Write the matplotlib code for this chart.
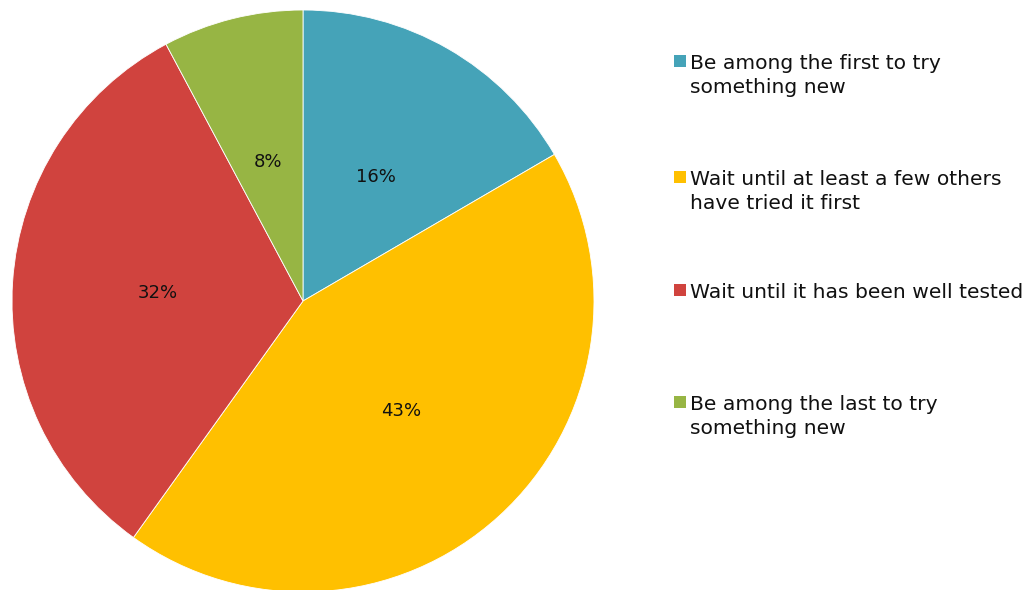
import numpy as np
import matplotlib.pyplot as plt
from matplotlib.patches import Rectangle

# survey answers, clockwise from 12 o'clock
labels = ["Be among the first to try\nsomething new",
          "Wait until at least a few others\nhave tried it first",
          "Wait until it has been well tested",
          "Be among the last to try\nsomething new"]
shares = [16.6, 43.3, 32.3, 7.8]
pct_labels = ["16%", "43%", "32%", "8%"]
colors = ["#45A3B8", "#FFC000", "#D0433E", "#97B544"]

fig = plt.figure(figsize=(10.29, 5.9), dpi=100)
ax = fig.add_axes([12 / 1029, -2 / 590, 582 / 1029, 582 / 590])

wedges, _ = ax.pie(shares, colors=colors, startangle=90, counterclock=False,
                   wedgeprops={"edgecolor": "white", "linewidth": 0.6})
ax.set_xlim(-1, 1)
ax.set_ylim(-1, 1)
ax.set_aspect("equal")

for w, txt in zip(wedges, pct_labels):
    mid = np.deg2rad((w.theta1 + w.theta2) / 2)
    ax.text(0.5 * np.cos(mid), 0.5 * np.sin(mid), txt,
            ha="center", va="center_baseline", fontsize=13, color="#111111")

# legend drawn by hand so the square sits on the first text line
cap_tops = [55, 171, 284, 396]
for lab, col, y in zip(labels, colors, cap_tops):
    fig.patches.append(Rectangle((674 / 1029, 1 - (y + 12) / 590), 12 / 1029, 12 / 590,
                                 transform=fig.transFigure, facecolor=col, edgecolor="none"))
    fig.text(690 / 1029, 1 - (y - 1) / 590, lab, ha="left", va="top",
             fontsize=14.6, color="#111111", linespacing=1.32)

fig.savefig("out.png", dpi=100)
